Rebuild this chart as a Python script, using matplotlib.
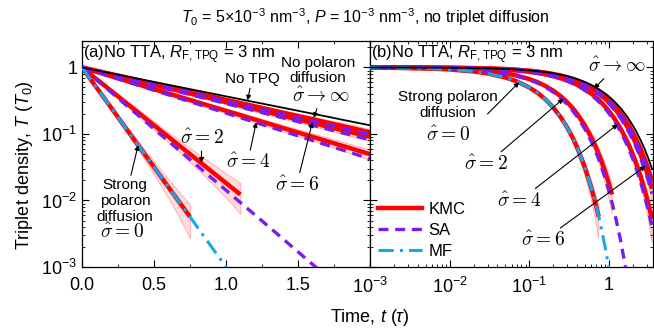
import matplotlib
matplotlib.use("Agg")
import matplotlib.pyplot as plt
import matplotlib.ticker as mticker
import numpy as np

plt.rcParams['font.family'] = ['Liberation Sans', 'DejaVu Sans']
plt.rcParams['mathtext.fontset'] = 'custom'
plt.rcParams['mathtext.rm'] = 'Liberation Sans'
plt.rcParams['mathtext.it'] = 'Liberation Sans:italic'
plt.rcParams['mathtext.bf'] = 'Liberation Sans:bold'

# time grid (units of tau)
t = [0, 0.001, 0.002, 0.005, 0.01, 0.02, 0.03, 0.05, 0.07, 0.1, 0.13, 0.16, 0.2, 0.25, 0.3,
     0.35, 0.4, 0.5, 0.6, 0.7, 0.75, 0.8, 0.9, 1.0, 1.1, 1.2, 1.4, 1.6, 1.7, 1.8, 2.0, 2.2,
     2.5, 2.8, 3.1, 3.5]

# triplet density T/T0
no_tpq = [1, 0.999, 0.998, 0.995, 0.990, 0.980, 0.970, 0.951, 0.932, 0.905, 0.878, 0.852, 0.819,
          0.779, 0.741, 0.705, 0.670, 0.607, 0.549, 0.497, 0.472, 0.449, 0.407, 0.368, 0.333,
          0.301, 0.247, 0.202, 0.183, 0.165, 0.135, 0.111, 0.082, 0.061, 0.045, 0.030]
inf_kmc = [1, 0.999, 0.998, 0.994, 0.989, 0.978, 0.967, 0.946, 0.925, 0.894, 0.865, 0.836, 0.799,
           0.756, 0.715, 0.676, 0.639, 0.571, 0.511, 0.457, 0.432, 0.408, 0.365, 0.326, 0.292,
           0.261, 0.208, 0.167, 0.149, 0.133, 0.106, 0.085, 0.061, 0.0434, 0.0311, 0.0198]
inf_sa = [1, 0.999, 0.998, 0.994, 0.988, 0.977, 0.966, 0.944, 0.922, 0.890, 0.860, 0.831, 0.793,
          0.748, 0.706, 0.666, 0.629, 0.560, 0.499, 0.444, 0.419, 0.395, 0.352, 0.313, 0.279,
          0.249, 0.197, 0.156, 0.139, 0.124, 0.098, 0.078, 0.055, 0.0389, 0.0274, 0.0172]
s6_kmc = [1, 0.999, 0.998, 0.994, 0.988, 0.976, 0.965, 0.942, 0.919, 0.887, 0.856, 0.825, 0.787,
          0.741, 0.698, 0.657, 0.619, 0.549, 0.487, 0.432, 0.407, 0.383, 0.340, 0.301, 0.267,
          0.237, 0.186, 0.147, 0.130, 0.115, 0.0907, 0.0714, 0.0498, 0.0347, 0.0242, 0.0150]
s6_sa = [1, 0.999, 0.998, 0.994, 0.988, 0.975, 0.963, 0.939, 0.916, 0.882, 0.850, 0.819, 0.779,
         0.732, 0.687, 0.646, 0.607, 0.535, 0.472, 0.417, 0.392, 0.368, 0.325, 0.287, 0.253,
         0.223, 0.174, 0.135, 0.119, 0.105, 0.082, 0.064, 0.044, 0.030, 0.0208, 0.0126]
s4_kmc = [1, 0.999, 0.997, 0.993, 0.985, 0.970, 0.956, 0.928, 0.900, 0.861, 0.823, 0.787, 0.741,
          0.687, 0.638, 0.592, 0.549, 0.472, 0.407, 0.350, 0.325, 0.301, 0.259, 0.223, 0.192,
          0.165, 0.122, 0.0907, 0.0781, 0.0672, 0.0498, 0.0369, 0.0235, 0.0150, 0.0096, 0.0052]
s4_sa = [1, 0.998, 0.997, 0.992, 0.984, 0.969, 0.954, 0.924, 0.895, 0.854, 0.814, 0.777, 0.729,
         0.674, 0.623, 0.575, 0.532, 0.454, 0.388, 0.331, 0.306, 0.283, 0.241, 0.206, 0.176,
         0.150, 0.110, 0.0798, 0.0682, 0.0582, 0.0424, 0.0309, 0.0193, 0.0120, 0.0075, 0.0040]
s2_kmc = [1, 0.996, 0.992, 0.980, 0.961, 0.923, 0.887, 0.819, 0.756, 0.670, 0.595, 0.527, 0.449,
          0.368, 0.301, 0.247, 0.202, 0.135, 0.0907, 0.0608, 0.0498, 0.0408, 0.0273, 0.0183, 0.0123]
s2_sa = [1, 0.996, 0.992, 0.979, 0.958, 0.919, 0.880, 0.809, 0.743, 0.654, 0.576, 0.507, 0.427,
         0.346, 0.279, 0.226, 0.183, 0.119, 0.0781, 0.0510, 0.0413, 0.0334, 0.0218, 0.0143,
         0.0093, 0.0061, 0.0026, 0.0011, 0.00073]
s0_kmc = [1, 0.993, 0.986, 0.966, 0.933, 0.871, 0.813, 0.708, 0.617, 0.502, 0.408, 0.332, 0.252,
          0.178, 0.126, 0.0894, 0.0633, 0.0317, 0.0159, 0.0080, 0.0057]
s0_mf = [1, 0.993, 0.986, 0.966, 0.933, 0.871, 0.813, 0.708, 0.617, 0.502, 0.408, 0.332, 0.252,
         0.178, 0.126, 0.0894, 0.0633, 0.0317, 0.0159, 0.0080, 0.0057, 0.0040, 0.0020, 0.0010,
         0.0005]

# KMC spread (absolute)
inf_err = [.040, .040, .040, .040, .040, .040, .039, .039, .038, .038, .037, .037, .036, .035,
           .034, .033, .032, .030, .029, .027, .026, .026, .024, .023, .022, .020, .018, .016,
           .015, .015, .013, .012, .0099, .0083, .0071, .0056]
s6_err = [.040, .040, .040, .040, .040, .040, .039, .039, .038, .038, .037, .036, .035, .034,
          .033, .032, .031, .030, .028, .026, .026, .025, .023, .022, .021, .019, .017, .015,
          .014, .014, .012, .011, .0089, .0074, .0062, .0049]
s4_err = [.040, .040, .040, .040, .040, .039, .039, .039, .038, .037, .036, .035, .034, .033,
          .032, .031, .030, .027, .026, .024, .023, .022, .020, .019, .018, .016, .014, .012,
          .011, .010, .0089, .0077, .0061, .0049, .0039, .0029]
s2_err = [.040, .040, .040, .040, .039, .038, .038, .036, .035, .034, .033, .032, .031, .029,
          .027, .025, .023, .019, .016, .013, .012, .011, .0089, .0073, .0060]
s0_err = [.040, .040, .040, .039, .039, .037, .036, .034, .031, .028, .026, .023, .020, .017,
          .014, .012, .010, .0071, .0050, .0036, .0030]

KMC_C = '#ff0000'
SA_C = '#7a1cf0'
MF_C = '#12a8f0'

kmc_sets = [(inf_kmc, inf_err), (s6_kmc, s6_err), (s4_kmc, s4_err), (s2_kmc, s2_err), (s0_kmc, s0_err)]
sa_sets = [inf_sa, s6_sa, s4_sa, s2_sa]


def draw_curves(ax):
    for vals, err in kmc_sets:
        n = len(vals)
        v = np.array(vals)
        e = np.array(err)
        ax.fill_between(t[:n], v - e, v + e, facecolor=(1, 0.6, 0.6, 0.35),
                        edgecolor=(1, 0.35, 0.35, 0.45), lw=0.6, zorder=1)
    for vals, err in kmc_sets:
        ax.plot(t[:len(vals)], vals, color=KMC_C, lw=3.2, zorder=2, solid_capstyle='butt')
    for vals in sa_sets:
        ax.plot(t[:len(vals)], vals, color=SA_C, lw=2.4, ls=(0, (3, 2)), zorder=3)
    ax.plot(t[:len(s0_mf)], s0_mf, color=MF_C, lw=2.2, ls=(0, (5, 2, 1, 2)), zorder=3)
    ax.plot(t, no_tpq, color='black', lw=1.3, zorder=4)


fig = plt.figure(figsize=(6.54, 3.33), dpi=100)
ax1 = fig.add_axes([82 / 654, 66 / 333, 288 / 654, 226 / 333])
ax2 = fig.add_axes([370 / 654, 66 / 333, 283 / 654, 226 / 333])

draw_curves(ax1)
draw_curves(ax2)

for ax in (ax1, ax2):
    ax.set_yscale('log')
    ax.set_ylim(1e-3, 2.5)
    ax.yaxis.set_major_locator(mticker.FixedLocator([1e-3, 1e-2, 1e-1, 1]))
    ax.yaxis.set_minor_locator(mticker.LogLocator(base=10, subs=np.arange(2, 10), numticks=20))
    ax.yaxis.set_minor_formatter(mticker.NullFormatter())
    ax.tick_params(which='both', direction='in', top=True, right=True, labelsize=13)
    ax.tick_params(which='major', length=5, width=0.8)
    ax.tick_params(which='minor', length=2.5, width=0.6)
    ax.tick_params(axis='x', pad=7)
    for s in ax.spines.values():
        s.set_linewidth(0.9)

ax1.set_xlim(0, 2)
ax1.xaxis.set_major_locator(mticker.FixedLocator([0, 0.5, 1.0, 1.5]))
ax1.xaxis.set_major_formatter(mticker.FixedFormatter(['0.0', '0.5', '1.0', '1.5']))
ax1.xaxis.set_minor_locator(mticker.MultipleLocator(0.25))
ax1.yaxis.set_major_formatter(mticker.FixedFormatter(['$10^{-3}$', '$10^{-2}$', '$10^{-1}$', '1']))

ax2.set_xscale('log')
ax2.set_xlim(1e-3, 3.6)
ax2.xaxis.set_major_locator(mticker.FixedLocator([1e-3, 1e-2, 1e-1, 1]))
ax2.xaxis.set_major_formatter(mticker.FixedFormatter(['$10^{-3}$', '$10^{-2}$', '$10^{-1}$', '1']))
ax2.xaxis.set_minor_locator(mticker.LogLocator(base=10, subs=np.arange(2, 10), numticks=20))
ax2.xaxis.set_minor_formatter(mticker.NullFormatter())
ax2.tick_params(labelleft=False)

# panel labels
ax1.text(0.005, 0.94, '(a)No TTA, $R_{\\mathrm{F,TPQ}}$ = 3 nm', transform=ax1.transAxes,
         fontsize=12, va='center', ha='left')
ax2.text(0.005, 0.94, '(b)No TTA, $R_{\\mathrm{F,TPQ}}$ = 3 nm', transform=ax2.transAxes,
         fontsize=12, va='center', ha='left')

arr = dict(arrowstyle='-|>', color='black', lw=0.8, mutation_scale=7, shrinkA=0, shrinkB=0)
sig = dict(fontsize=14, math_fontfamily='cm', ha='center', va='center')

# left panel annotations
ax1.annotate('No TPQ', xy=(1.15, 0.32), xytext=(1.18, 0.68), fontsize=11, ha='center',
             va='center', arrowprops=arr)
ax1.text(1.64, 0.9, 'No polaron\ndiffusion', fontsize=11, ha='center', va='center', linespacing=1.1)
ax1.annotate('$\\hat{\\sigma} \\rightarrow \\infty$', xy=(1.61, 0.175), xytext=(1.66, 0.37),
             arrowprops=arr, **sig)
ax1.annotate('$\\hat{\\sigma} = 2$', xy=(0.83, 0.037), xytext=(0.83, 0.085), arrowprops=arr, **sig)
ax1.annotate('$\\hat{\\sigma} = 4$', xy=(1.21, 0.15), xytext=(1.15, 0.037), arrowprops=arr, **sig)
ax1.annotate('$\\hat{\\sigma} = 6$', xy=(1.6, 0.15), xytext=(1.49, 0.017), arrowprops=arr, **sig)
ax1.annotate('', xy=(0.39, 0.068), xytext=(0.34, 0.024), arrowprops=arr)
ax1.text(0.3, 0.0098, 'Strong\npolaron\ndiffusion', fontsize=11, ha='center', va='center',
         linespacing=1.15)
ax1.text(0.28, 0.0033, '$\\hat{\\sigma} = 0$', **sig)

# right panel annotations
ax2.annotate('$\\hat{\\sigma} \\rightarrow \\infty$', xy=(0.65, 0.48), xytext=(1.25, 1.05),
             arrowprops=arr, **sig)
ax2.annotate('', xy=(0.075, 0.6), xytext=(0.03, 0.2), arrowprops=arr)
ax2.text(0.0095, 0.27, 'Strong polaron\ndiffusion', fontsize=11, ha='center', va='center',
         linespacing=1.15)
ax2.text(0.0095, 0.095, '$\\hat{\\sigma} = 0$', **sig)
ax2.annotate('$\\hat{\\sigma} = 2$', xy=(0.27, 0.34), xytext=(0.029, 0.035), arrowprops=arr, **sig)
ax2.annotate('$\\hat{\\sigma} = 4$', xy=(1.3, 0.14), xytext=(0.075, 0.0098), arrowprops=arr, **sig)
ax2.annotate('$\\hat{\\sigma} = 6$', xy=(2.9, 0.033), xytext=(0.15, 0.0025), arrowprops=arr, **sig)

# legend
handles = [plt.Line2D([], [], color=KMC_C, lw=3.2),
           plt.Line2D([], [], color=SA_C, lw=2.4, ls=(0, (3, 2))),
           plt.Line2D([], [], color=MF_C, lw=2.2, ls=(0, (5, 2, 1, 2)))]
ax2.legend(handles, ['KMC', 'SA', 'MF'], loc='lower left', frameon=False, fontsize=12,
           handlelength=2.6, handletextpad=0.4, labelspacing=0.35, borderaxespad=0.1,
           bbox_to_anchor=(0.0, 0.0))

fig.text(365 / 654, 1 - 17 / 333,
         '$T_0$ = 5\u00d710$^{-3}$ nm$^{-3}$, $P$ = 10$^{-3}$ nm$^{-3}$, no triplet diffusion',
         fontsize=11.5, ha='center', va='center')
fig.text(370 / 654, 1 - 318 / 333, 'Time, $t$ ($\\tau$)', fontsize=13, ha='center', va='center')
fig.text(25 / 654, (333 - 165) / 333, 'Triplet density, $T$ ($T_0$)', fontsize=13, rotation=90,
         ha='center', va='center')

fig.savefig('out.png', dpi=100)
